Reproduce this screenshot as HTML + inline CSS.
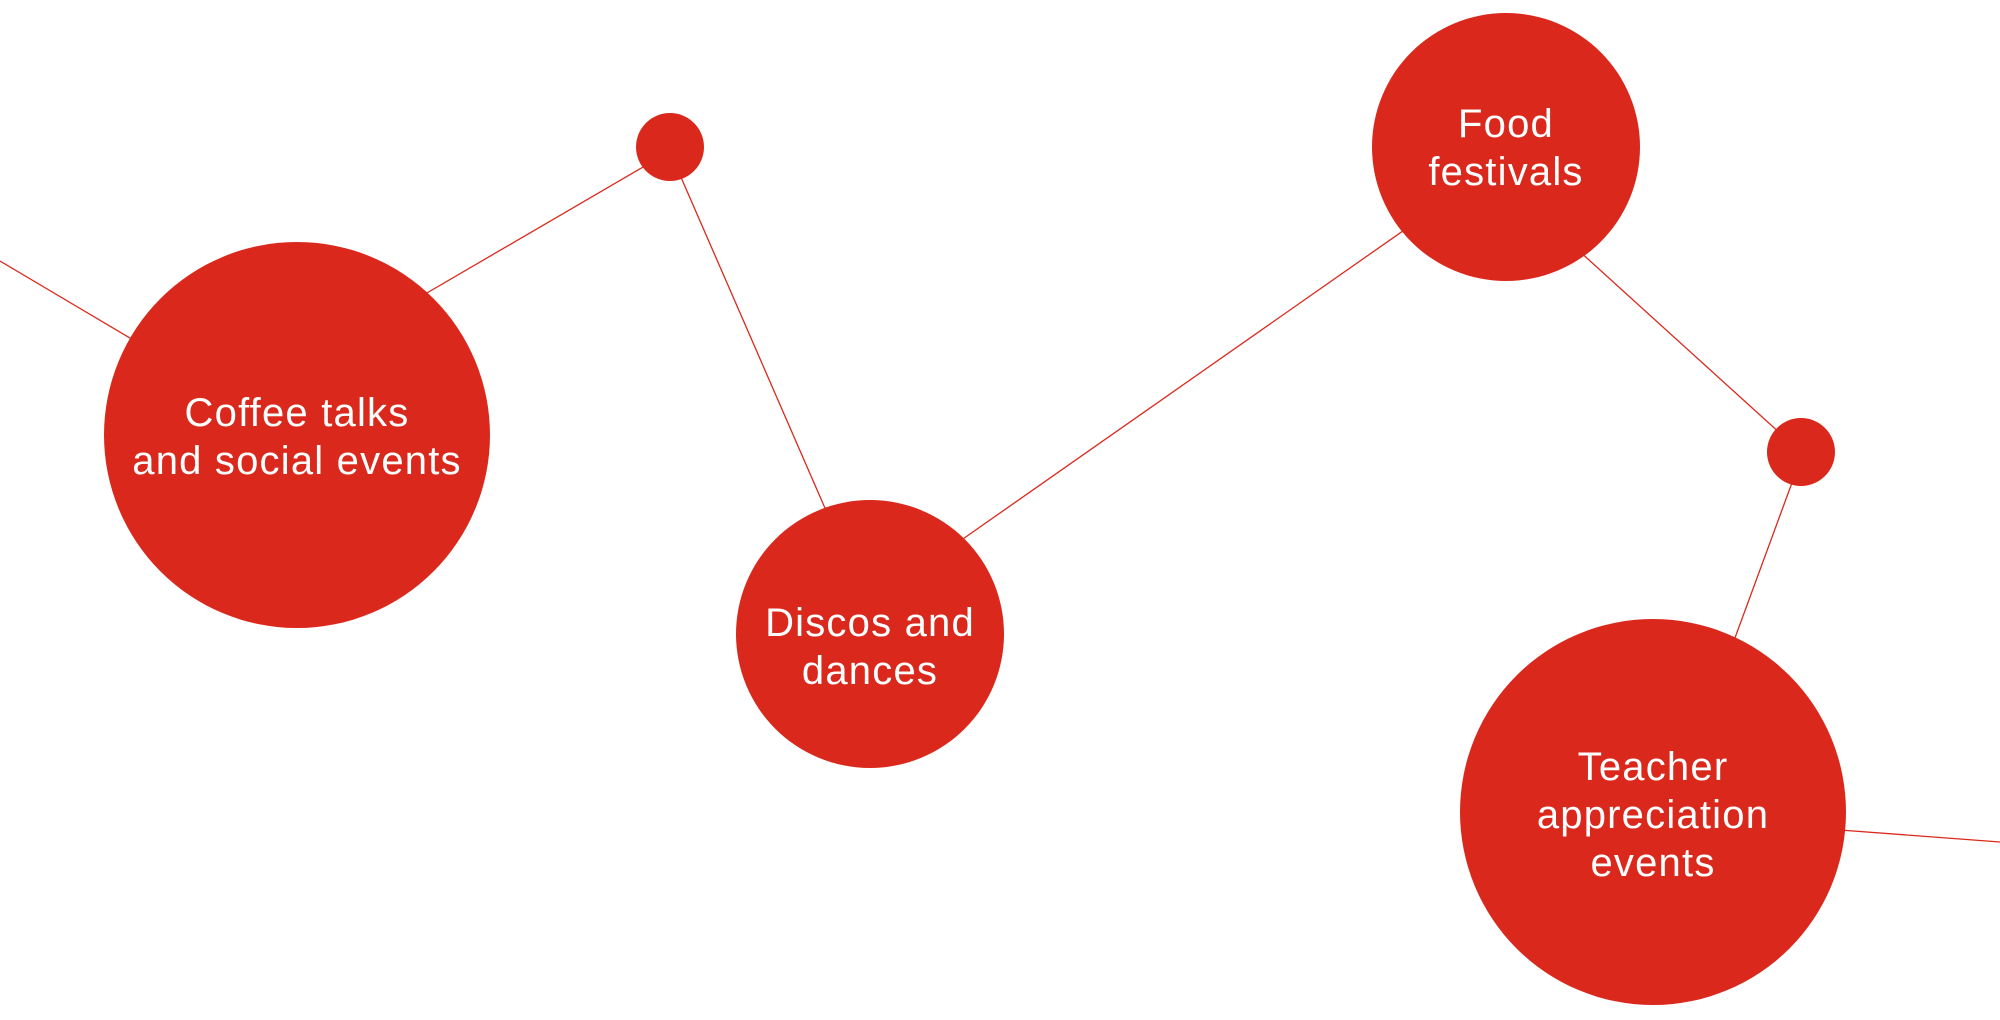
<!DOCTYPE html>
<html><head><meta charset="utf-8"><style>
html,body{margin:0;padding:0;background:#fff;width:2000px;height:1020px;overflow:hidden}
svg text{font-family:"Liberation Sans",sans-serif;fill:#fff;font-size:40px;letter-spacing:1.2px;text-anchor:middle}
</style></head><body>
<svg width="2000" height="1020" viewBox="0 0 2000 1020" xmlns="http://www.w3.org/2000/svg">
<g stroke="#DA291C" stroke-width="1.3" fill="none">
<line x1="0" y1="261" x2="140" y2="344"/>
<line x1="420" y1="297" x2="650" y2="163"/>
<line x1="680" y1="175" x2="828" y2="515"/>
<line x1="960" y1="541" x2="1410" y2="226"/>
<line x1="1578" y1="250" x2="1782" y2="435"/>
<line x1="1793" y1="480" x2="1732" y2="646"/>
<line x1="1840" y1="830" x2="2000" y2="842"/>
</g>
<g fill="#DA291C">
<circle cx="297" cy="435" r="193"/>
<circle cx="670" cy="147" r="34"/>
<circle cx="870" cy="634" r="134"/>
<circle cx="1506" cy="147" r="134"/>
<circle cx="1801" cy="452" r="34"/>
<circle cx="1653" cy="812" r="193"/>
</g>
<text x="297" y="426">Coffee talks</text>
<text x="297" y="474">and social events</text>
<text x="870" y="636">Discos and</text>
<text x="870" y="684">dances</text>
<text x="1506" y="137">Food</text>
<text x="1506" y="185">festivals</text>
<text x="1653" y="780">Teacher</text>
<text x="1653" y="828">appreciation</text>
<text x="1653" y="876">events</text>
</svg>
</body></html>
